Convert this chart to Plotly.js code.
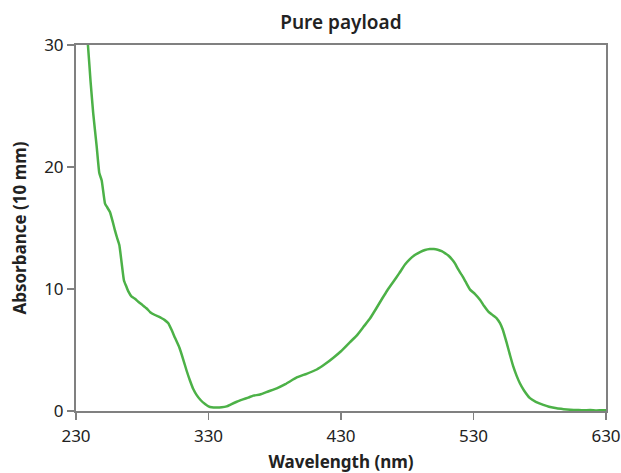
<!DOCTYPE html>
<html>
<head>
<meta charset="utf-8">
<script src="https://cdn.plot.ly/plotly-3.0.1.min.js"></script>
<style>html,body{margin:0;padding:0;background:#fff;}#chart{width:621px;height:473px;}</style>
</head>
<body>
<div id="chart"></div>
<script>
var wavelength = [236, 239, 241, 243, 245.6, 247.6, 249.4, 251.9, 253.5, 255.7, 257.5, 259.4, 261, 262.7, 264.5, 266.2, 268, 269.5, 272, 274.5, 277, 280, 283.4, 286, 289.6, 292, 294.7, 297, 299.7, 302.2, 304.7, 308, 311, 313.5, 316, 318.5, 321.1, 324, 327.4, 330, 332.4, 336, 340, 343.7, 347, 351.3, 356, 360, 363.8, 368.9, 375, 381.5, 388, 396.6, 404, 411.7, 418, 424, 430, 436.8, 442, 447, 452, 456, 461, 465, 469.5, 474, 478.3, 482, 486, 490, 493.4, 497, 500, 503, 506, 509, 511, 514, 516, 518.5, 521.1, 524, 527.4, 531, 535, 538, 541.2, 544, 547.5, 550, 552, 555, 557.5, 560, 562.5, 565, 568, 572.6, 577, 582.7, 587, 592.8, 598, 603, 608, 613, 618, 623, 627, 630];
var absorbance = [33, 30.0, 27, 24.4, 21.7, 19.5, 18.9, 17.0, 16.7, 16.3, 15.6, 14.8, 14.2, 13.6, 12.1, 10.7, 10.2, 9.8, 9.37, 9.2, 8.96, 8.7, 8.4, 8.1, 7.87, 7.75, 7.6, 7.45, 7.2, 6.64, 6.0, 5.2, 4.2, 3.3, 2.5, 1.8, 1.3, 0.9, 0.57, 0.38, 0.3, 0.28, 0.3, 0.38, 0.55, 0.76, 0.95, 1.1, 1.26, 1.35, 1.6, 1.86, 2.2, 2.75, 3.05, 3.4, 3.85, 4.35, 4.9, 5.65, 6.2, 6.9, 7.6, 8.3, 9.2, 9.9, 10.6, 11.3, 12.0, 12.45, 12.8, 13.05, 13.2, 13.28, 13.28, 13.22, 13.1, 12.9, 12.75, 12.4, 12.1, 11.6, 11.15, 10.6, 9.95, 9.6, 9.1, 8.6, 8.15, 7.9, 7.6, 7.2, 6.7, 5.6, 4.6, 3.65, 2.9, 2.27, 1.7, 1.05, 0.75, 0.5, 0.35, 0.22, 0.15, 0.1, 0.08, 0.06, 0.08, 0.05, 0.07, 0.06];
var xTicks = [230, 330, 430, 530, 630];
var yTicks = [0, 10, 20, 30];

var font = '"Noto Sans", "Open Sans", sans-serif';
var trace = {
  x: wavelength, y: absorbance, type: 'scatter', mode: 'lines',
  line: {color: '#4cb147', width: 2.5, shape: 'spline', smoothing: 0.4},
  hoverinfo: 'skip'
};
var layout = {
  width: 621, height: 473,
  margin: {l: 76, r: 15, t: 45, b: 62},
  paper_bgcolor: '#fff', plot_bgcolor: '#fff',
  showlegend: false,
  title: {text: 'Pure payload', font: {family: font, size: 19, color: '#222', weight: 600}, x: 0.549, xanchor: 'center', y: 0.953, yanchor: 'middle'},
  xaxis: {
    range: [230, 630], tickvals: xTicks, ticktext: xTicks.map(String),
    showgrid: false, zeroline: false,
    showline: true, linecolor: '#808080', linewidth: 2, mirror: true,
    ticks: 'outside', ticklen: 7, tickwidth: 1.5, tickcolor: '#808080',
    ticklabelstandoff: 2,
    tickfont: {family: font, size: 17, color: '#222'},
    title: {text: 'Wavelength (nm)', font: {family: font, size: 17, color: '#222', weight: 700}, standoff: 12}
  },
  yaxis: {
    range: [0, 30], tickvals: yTicks, ticktext: yTicks.map(String),
    showgrid: false, zeroline: false,
    showline: true, linecolor: '#808080', linewidth: 2, mirror: true,
    ticks: 'outside', ticklen: 7, tickwidth: 1.5, tickcolor: '#808080',
    tickfont: {family: font, size: 17, color: '#222'},
    title: {text: 'Absorbance (10 mm)', font: {family: font, size: 17, color: '#222', weight: 700}, standoff: 13}
  }
};
Plotly.newPlot('chart', [trace], layout, {displayModeBar: false, staticPlot: true});
</script>
</body>
</html>
